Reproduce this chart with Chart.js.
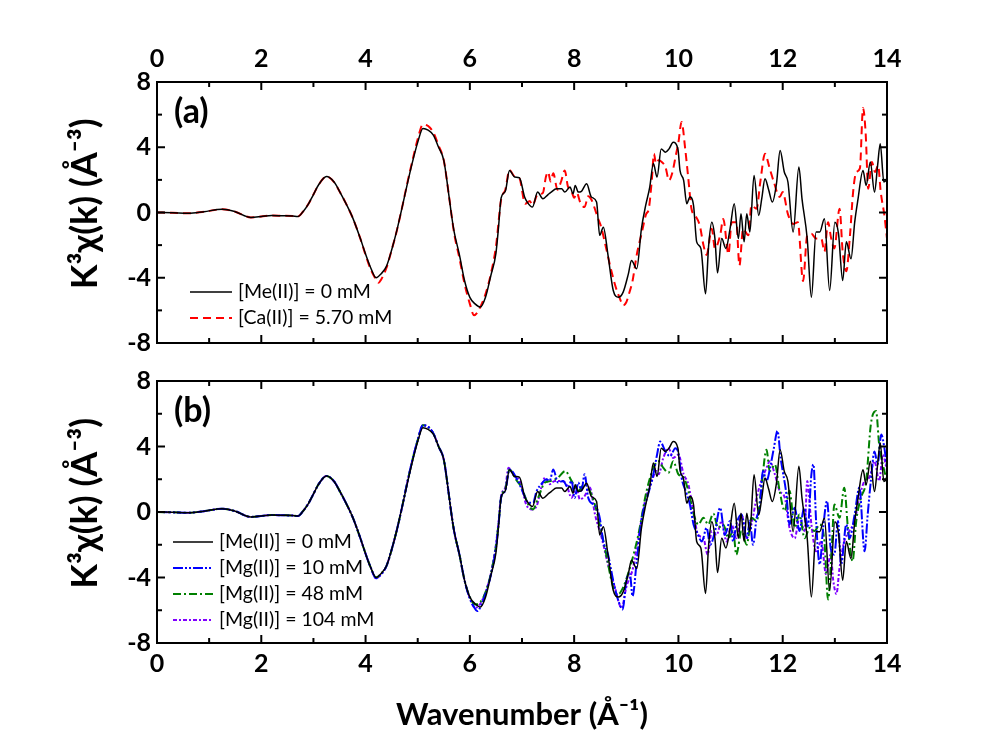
<!DOCTYPE html>
<html><head><meta charset="utf-8">
<script src="https://cdn.jsdelivr.net/npm/chart.js@4.4.0/dist/chart.umd.min.js"></script>
<style>
html,body{margin:0;padding:0;background:#fff;}
.box{position:absolute;left:0;top:0;width:992px;height:756px;}
</style></head><body>
<div class="box"><canvas id="ca" width="992" height="756"></canvas></div>
<div class="box"><canvas id="cb" width="992" height="756"></canvas></div>
<script>
// ---------- data (k in 1/Å, k^3 chi(k) in Å^-3) ----------
const kMe = [0,0.3,0.6,0.9,1.25,1.5,1.8,2.0,2.2,2.4,2.6,2.7,2.8,2.9,3.0,3.1,3.25,3.4,3.5,3.6,3.75,3.9,4.0,4.1,4.2,4.3,4.4,4.5,4.6,4.7,4.8,4.9,5.0,5.1,5.2,5.3,5.4,5.5,5.6,5.65,5.7,5.8,5.9,6.0,6.1,6.2,6.3,6.4,6.5,6.55,6.6,6.68,6.76,6.86,6.95,7.05,7.1,7.2,7.3,7.4,7.5,7.56,7.66,7.76,7.82,7.92,7.98,8.02,8.08,8.14,8.24,8.33,8.43,8.49,8.56,8.65,8.75,8.85,8.94,9.04,9.1,9.2,9.29,9.37,9.45,9.52,9.59,9.67,9.75,9.82,9.9,9.99,10.03,10.1,10.16,10.22,10.29,10.35,10.43,10.52,10.58,10.64,10.7,10.75,10.83,10.91,10.99,11.07,11.15,11.2,11.26,11.31,11.37,11.45,11.54,11.6,11.66,11.73,11.8,11.88,11.95,12.03,12.1,12.2,12.31,12.37,12.47,12.55,12.64,12.71,12.8,12.9,13.0,13.07,13.15,13.22,13.31,13.38,13.44,13.54,13.6,13.68,13.76,13.82,13.87,13.94,14.0];
const chiMe = [0,-0.02,-0.05,0.05,0.2,0.05,-0.3,-0.25,-0.18,-0.2,-0.22,-0.25,0.05,0.5,1.1,1.7,2.2,1.85,1.3,0.7,-0.3,-1.6,-2.55,-3.4,-4.0,-3.75,-3.3,-2.3,-1.1,0.3,1.74,3.1,4.3,5.15,5.05,4.75,4.0,3.2,1.0,-0.2,-1.2,-2.6,-4.2,-5.2,-5.6,-5.8,-5.2,-3.9,-2.5,-0.9,0.9,1.3,2.58,2.17,2.13,0.95,0.64,0.33,1.25,0.84,1.1,1.25,1.46,1.46,1.25,1.56,1.15,1.66,1.25,1.3,1.76,0.95,0.64,-1.4,-0.9,-2.63,-4.78,-5.19,-4.88,-3.76,-2.94,-3.45,-1.0,0.4,1.56,3.0,2.17,3.9,3.7,3.9,4.3,3.9,2.58,1.97,0.54,0.95,0.43,-1.8,-2.2,-4.98,-2.0,-0.6,-1.6,-3.7,-1.6,-2.2,-1.0,0.54,-1.6,-0.08,-1.8,-0.08,-1.2,2.27,-0.18,0.9,2.07,1.4,0.64,1.76,3.8,2.48,1.87,-1.2,2.79,0.84,-1.6,-5.19,-1.2,-1.2,-0.38,-4.78,-0.6,-1.3,-4.17,-1.8,-2.84,-0.6,0.74,2.58,1.66,3.1,1.25,2.89,4.22,1.87,2.0];

const kCa = [0,0.3,0.6,0.9,1.25,1.5,1.8,2.0,2.2,2.4,2.6,2.7,2.8,2.9,3.0,3.1,3.25,3.4,3.5,3.6,3.75,3.9,4.0,4.1,4.2,4.25,4.3,4.4,4.5,4.6,4.7,4.8,4.9,5.0,5.1,5.2,5.3,5.4,5.5,5.6,5.7,5.8,5.9,6.0,6.08,6.15,6.2,6.3,6.4,6.5,6.6,6.68,6.76,6.86,6.95,7.06,7.15,7.2,7.3,7.4,7.46,7.5,7.55,7.6,7.68,7.75,7.82,7.88,7.95,8.0,8.05,8.12,8.2,8.27,8.33,8.4,8.45,8.52,8.6,8.7,8.8,8.88,8.94,9.0,9.06,9.12,9.2,9.3,9.38,9.43,9.49,9.53,9.57,9.62,9.68,9.75,9.82,9.88,9.95,10.0,10.06,10.13,10.19,10.25,10.32,10.41,10.48,10.54,10.64,10.7,10.8,10.86,10.96,11.02,11.11,11.17,11.24,11.34,11.4,11.5,11.57,11.66,11.75,11.83,11.94,12.0,12.1,12.2,12.29,12.39,12.47,12.55,12.64,12.74,12.8,12.87,12.93,12.99,13.09,13.15,13.22,13.29,13.35,13.41,13.48,13.54,13.59,13.64,13.71,13.77,13.83,13.88,13.95,14.0];
const chiCa = [0,-0.02,-0.05,0.05,0.2,0.05,-0.3,-0.25,-0.18,-0.2,-0.22,-0.25,0.05,0.5,1.1,1.7,2.2,1.85,1.3,0.7,-0.3,-1.6,-2.6,-3.5,-4.1,-4.3,-4.1,-3.4,-2.3,-1.1,0.3,1.8,3.2,4.5,5.4,5.3,4.9,4.1,3.2,1.0,-1.3,-2.8,-4.4,-5.6,-6.3,-6.1,-5.8,-5.0,-3.8,-2.1,0.8,1.4,2.6,2.2,2.1,0.54,0.7,0.45,1.1,1.2,2.2,2.48,1.9,2.4,1.4,1.9,2.58,1.6,1.3,0.9,1.2,0.6,0.33,1.0,0.8,0.2,-0.3,-0.9,-2.0,-3.4,-4.6,-5.3,-5.7,-5.5,-4.9,-4.2,-2.6,-1.2,-0.1,0.2,2.0,3.6,3.0,3.2,3.1,2.8,1.97,2.4,3.5,4.3,5.55,3.9,2.07,0.23,-0.18,-0.8,-2.0,-2.6,-1.0,-2.2,-1.4,-0.4,-2.55,-0.6,-0.6,-3.25,-1.0,-1.4,0.43,0.23,1.87,3.6,2.7,1.87,0.95,1.25,-0.1,-0.7,-0.6,-4.2,-1.4,-1.3,-1.6,-1.6,-2.4,-0.6,-1.6,-2.2,0.23,-2.4,-3.6,-1.4,1.25,2.48,2.7,6.4,4.9,1.46,3.1,2.48,2.89,1.25,-0.18,-1.6];

const kMg10 = [0,0.3,0.6,0.9,1.25,1.5,1.8,2.0,2.2,2.4,2.6,2.7,2.8,2.9,3.0,3.1,3.25,3.4,3.5,3.6,3.75,3.9,4.0,4.1,4.2,4.3,4.4,4.5,4.6,4.7,4.8,4.9,5.0,5.1,5.2,5.3,5.4,5.5,5.6,5.65,5.7,5.8,5.9,6.0,6.08,6.14,6.22,6.3,6.4,6.5,6.55,6.6,6.68,6.76,6.92,7.05,7.12,7.21,7.28,7.37,7.47,7.53,7.6,7.69,7.79,7.88,7.95,8.01,8.08,8.14,8.2,8.27,8.37,8.43,8.49,8.56,8.65,8.75,8.85,8.93,9.0,9.07,9.12,9.2,9.29,9.42,9.52,9.59,9.65,9.75,9.84,9.94,10.0,10.06,10.16,10.22,10.29,10.35,10.45,10.54,10.61,10.7,10.8,10.89,10.99,11.05,11.11,11.21,11.31,11.37,11.43,11.5,11.56,11.62,11.69,11.77,11.83,11.9,11.96,12.0,12.07,12.13,12.23,12.32,12.41,12.48,12.55,12.59,12.64,12.71,12.77,12.85,12.92,12.99,13.06,13.12,13.22,13.28,13.38,13.47,13.57,13.63,13.69,13.76,13.82,13.89,13.95,14.0];
const chiMg10 = [0,-0.02,-0.05,0.05,0.2,0.05,-0.3,-0.25,-0.18,-0.2,-0.22,-0.25,0.05,0.5,1.1,1.7,2.2,1.85,1.3,0.7,-0.3,-1.6,-2.55,-3.4,-4.05,-3.8,-3.3,-2.3,-1.1,0.3,1.8,3.2,4.4,5.3,5.2,4.8,4.0,3.2,1.0,-0.2,-1.2,-2.6,-4.2,-5.3,-5.8,-6.05,-5.7,-5.0,-3.9,-2.2,-0.8,0.9,1.3,2.6,1.9,0.97,0.57,0.57,1.28,1.7,2.0,1.9,2.6,1.8,1.9,1.5,1.9,0.87,1.8,1.3,2.3,0.87,0.46,0.26,-0.35,-1.8,-2.6,-4.2,-5.44,-5.95,-4.2,-3.8,-5.14,-3.0,-0.55,1.1,2.3,3.5,4.3,3.7,3.4,3.9,3.6,2.1,1.1,0.46,-0.76,-1.2,-1.8,-0.96,-2.0,-1.2,0.26,-1.4,-0.55,-1.8,-0.76,-0.15,-1.6,-0.55,-2.0,-0.35,0.26,2.5,1.9,2.9,3.9,4.95,3.3,2.5,1.1,-0.76,0.26,-1.16,0.26,-0.96,2.3,2.9,-0.55,-3.2,-1.16,0.67,-2.2,-2.6,-0.55,-3.2,-0.76,-1.6,-0.15,1.5,-2.4,-0.15,1.9,3.7,2.9,4.74,3.9,2.7];

const kMg48 = [0,0.3,0.6,0.9,1.25,1.5,1.8,2.0,2.2,2.4,2.6,2.7,2.8,2.9,3.0,3.1,3.25,3.4,3.5,3.6,3.75,3.9,4.0,4.1,4.2,4.3,4.4,4.5,4.6,4.7,4.8,4.9,5.0,5.1,5.2,5.3,5.4,5.5,5.6,5.65,5.7,5.8,5.9,6.0,6.1,6.2,6.3,6.4,6.5,6.55,6.6,6.68,6.76,6.88,6.99,7.12,7.21,7.31,7.44,7.56,7.69,7.83,7.95,8.08,8.2,8.33,8.43,8.59,8.75,8.85,8.94,9.07,9.23,9.39,9.55,9.62,9.71,9.81,9.9,10.0,10.1,10.19,10.29,10.38,10.48,10.57,10.67,10.76,10.86,10.96,11.05,11.11,11.21,11.31,11.4,11.5,11.59,11.69,11.75,11.85,11.94,12.04,12.13,12.23,12.32,12.42,12.52,12.61,12.71,12.8,12.87,12.94,12.99,13.09,13.18,13.25,13.34,13.41,13.5,13.6,13.69,13.79,13.85,13.92,14.0];
const chiMg48 = [0,-0.02,-0.05,0.05,0.2,0.05,-0.3,-0.25,-0.18,-0.2,-0.22,-0.25,0.05,0.5,1.1,1.7,2.2,1.85,1.3,0.7,-0.3,-1.6,-2.55,-3.4,-4.0,-3.75,-3.3,-2.3,-1.1,0.3,1.8,3.2,4.4,5.3,5.2,4.8,4.0,3.2,1.0,-0.2,-1.2,-2.6,-4.2,-5.2,-5.65,-5.5,-4.9,-3.8,-2.1,-0.7,0.9,1.4,2.6,2.0,1.5,0.46,0.16,0.87,1.8,1.9,2.1,2.5,1.9,1.3,1.7,1.08,0.06,-2.2,-4.6,-5.0,-4.6,-3.4,-1.4,1.3,2.9,3.1,2.7,2.4,3.1,2.3,2.1,1.3,-0.1,-0.76,-0.35,-0.76,-0.1,-0.96,-0.76,-1.6,-1.16,-2.6,-1.16,-2.0,-0.35,-0.55,1.5,3.8,2.5,2.9,1.3,0.06,1.3,-0.96,-0.15,-1.6,-0.96,-1.16,-0.76,-1.8,-5.35,-2.2,0.46,-0.35,1.48,-0.96,-3.0,-0.55,0.87,1.9,5.35,6.17,4.1,2.9,1.9];

const kMg104 = [0,0.3,0.6,0.9,1.25,1.5,1.8,2.0,2.2,2.4,2.6,2.7,2.8,2.9,3.0,3.1,3.25,3.4,3.5,3.6,3.75,3.9,4.0,4.1,4.2,4.3,4.4,4.5,4.6,4.7,4.8,4.9,5.0,5.1,5.2,5.3,5.4,5.5,5.6,5.65,5.7,5.8,5.9,6.0,6.1,6.2,6.3,6.4,6.5,6.55,6.6,6.68,6.74,6.85,6.96,7.08,7.18,7.28,7.37,7.44,7.53,7.63,7.76,7.85,7.95,8.04,8.11,8.2,8.3,8.4,8.53,8.65,8.78,8.91,9.0,9.13,9.23,9.36,9.49,9.58,9.62,9.71,9.81,9.9,10.0,10.1,10.19,10.29,10.38,10.48,10.56,10.64,10.73,10.83,10.92,11.02,11.11,11.21,11.31,11.4,11.5,11.59,11.69,11.75,11.85,11.94,12.04,12.13,12.23,12.32,12.42,12.47,12.55,12.64,12.74,12.83,12.92,12.97,13.03,13.09,13.18,13.28,13.38,13.47,13.57,13.66,13.76,13.85,13.92,14.0];
const chiMg104 = [0,-0.02,-0.05,0.05,0.2,0.05,-0.3,-0.25,-0.18,-0.2,-0.22,-0.25,0.05,0.5,1.1,1.7,2.2,1.85,1.3,0.7,-0.3,-1.6,-2.55,-3.4,-4.05,-3.8,-3.3,-2.3,-1.1,0.3,1.8,3.2,4.4,5.3,5.2,4.8,4.0,3.2,1.0,-0.2,-1.2,-2.6,-4.2,-5.25,-5.85,-5.6,-4.9,-3.8,-2.0,-0.6,1.0,1.5,2.7,2.2,1.9,0.46,0.16,0.36,1.5,2.1,1.7,1.9,1.9,1.7,0.87,1.5,0.77,0.97,1.5,-0.15,-1.6,-3.2,-4.6,-5.85,-4.6,-3.4,-1.6,0.67,1.9,2.5,2.3,3.3,3.9,3.3,3.5,2.3,1.7,-0.1,-1.4,-1.6,-2.6,-1.16,-1.4,-0.55,-1.8,-0.76,-1.6,-0.15,-1.6,-0.76,0.87,1.9,2.7,3.1,2.3,1.3,0.87,-0.96,-1.6,-0.35,-1.16,1.9,-0.76,-2.4,-1.8,-3.8,-2.6,-4.2,-5.0,-3.4,-1.8,-1.16,-0.55,0.87,1.9,2.1,3.1,1.9,3.5,2.5];

const labelsA = ['[Me(II)] = 0 mM', '[Ca(II)] = 5.70 mM'];
const labelsB = ['[Me(II)] = 0 mM', '[Mg(II)] = 10 mM', '[Mg(II)] = 48 mM', '[Mg(II)] = 104 mM'];
const xTitle = 'Wavenumber (Å⁻¹)';
const yTitle = '  K³χ(k) (Å⁻³)';

// ---------- helpers ----------
function pts(k, v) {
  const n = Math.min(k.length, v.length);
  const out = [];
  for (let i = 0; i < n; i++) out.push({x: k[i], y: v[i]});
  return out;
}
const TICK_FONT = {family: "Lato, 'Liberation Sans', sans-serif", weight: 'bold', size: 25, lineHeight: 1};
const YTITLE_FONT = {family: "Lato, 'DejaVu Sans', sans-serif", weight: 'bold', size: 36};
const XTITLE_FONT = {family: "Lato, 'DejaVu Sans', sans-serif", weight: 'bold', size: 31};

function ds(label, k, v, color, dash, width) {
  return {label, data: pts(k, v), borderColor: color, backgroundColor: color,
    borderDash: dash, borderWidth: width, pointRadius: 0, fill: false,
    cubicInterpolationMode: 'monotone'};
}

const framePlugin = {
  id: 'frameTicks',
  afterDatasetsDraw(chart, args, o) {
    const {ctx, chartArea: a} = chart;
    const xs = chart.scales.x, ys = chart.scales.y;
    ctx.save();
    ctx.strokeStyle = '#000';
    ctx.lineWidth = 2;
    ctx.setLineDash([]);
    ctx.strokeRect(a.left, a.top, a.right - a.left, a.bottom - a.top);
    const seg = (x1, y1, x2, y2) => { ctx.beginPath(); ctx.moveTo(x1, y1); ctx.lineTo(x2, y2); ctx.stroke(); };
    const xt = xs.ticks.map(t => t.value);
    for (let i = 0; i < xt.length; i++) {
      const p = xs.getPixelForValue(xt[i]);
      seg(p, a.top, p, a.top + 8); seg(p, a.bottom, p, a.bottom - 8);
      if (i < xt.length - 1) {
        const m = xs.getPixelForValue((xt[i] + xt[i + 1]) / 2);
        seg(m, a.top, m, a.top + 5); seg(m, a.bottom, m, a.bottom - 5);
      }
    }
    const yt = ys.ticks.map(t => t.value);
    for (let i = 0; i < yt.length; i++) {
      const p = ys.getPixelForValue(yt[i]);
      seg(a.left, p, a.left + 8, p); seg(a.right, p, a.right - 8, p);
      if (i < yt.length - 1) {
        const m = ys.getPixelForValue((yt[i] + yt[i + 1]) / 2);
        seg(a.left, m, a.left + 5, m); seg(a.right, m, a.right - 5, m);
      }
    }
    // panel label
    ctx.fillStyle = '#000';
    ctx.font = "bold 34px Lato, 'DejaVu Sans', sans-serif";
    ctx.textBaseline = 'middle';
    ctx.textAlign = 'left';
    ctx.fillText(o.panel, a.left + 17, a.top + 30);
    // legend
    ctx.font = "19.5px Lato, 'DejaVu Sans', sans-serif";
    chart.data.datasets.forEach((d, i) => {
      const y = o.legY + i * o.legDy;
      ctx.strokeStyle = d.borderColor;
      ctx.lineWidth = d.borderWidth;
      ctx.setLineDash(d.borderDash || []);
      seg(o.legX, y, o.legX + o.legLen, y);
      ctx.setLineDash([]);
      ctx.fillStyle = '#000';
      ctx.fillText(d.label, o.legX + o.legLen + 6, y);
    });
    ctx.restore();
  }
};

function yScale() {
  return {
    type: 'linear', min: -8, max: 8, position: 'left',
    ticks: {stepSize: 4, font: TICK_FONT, color: '#000', padding: 6},
    grid: {display: false, drawTicks: false},
    border: {display: false},
    title: {display: true, text: yTitle, font: YTITLE_FONT, color: '#000', padding: 0},
    afterFit(s) { s.width = 93; }
  };
}

const common = {
  responsive: false, animation: false, devicePixelRatio: 1,
  plugins: {legend: {display: false}, tooltip: {enabled: false}},
  elements: {line: {tension: 0}}
};

new Chart(document.getElementById('ca'), {
  type: 'line',
  data: {datasets: [
    ds(labelsA[0], kMe, chiMe, '#000000', [], 1.5),
    ds(labelsA[1], kCa, chiCa, '#ff0000', [8, 5], 2)
  ]},
  options: Object.assign({}, common, {
    layout: {padding: {left: 64, top: 0, right: 105, bottom: 413}},
    scales: {
      x: {type: 'linear', position: 'top', min: 0, max: 14,
        ticks: {stepSize: 2, font: TICK_FONT, color: '#000', padding: 11, maxRotation: 0},
        grid: {display: false, drawTicks: false}, border: {display: false},
        afterFit(s) { s.height = 82; }},
      y: yScale()
    },
    plugins: Object.assign({}, common.plugins, {
      frameTicks: {panel: '(a)', legX: 190, legY: 292, legDy: 26, legLen: 42}
    })
  }),
  plugins: [framePlugin]
});

new Chart(document.getElementById('cb'), {
  type: 'line',
  data: {datasets: [
    ds(labelsB[0], kMe, chiMe, '#000000', [], 1.5),
    ds(labelsB[1], kMg10, chiMg10, '#0000ff', [10, 2, 2, 2, 2, 2], 2),
    ds(labelsB[2], kMg48, chiMg48, '#008000', [8, 3, 2, 3], 2),
    ds(labelsB[3], kMg104, chiMg104, '#8000ff', [4, 2, 2, 2], 2)
  ]},
  options: Object.assign({}, common, {
    layout: {padding: {left: 64, top: 381, right: 105, bottom: 22}},
    scales: {
      x: {type: 'linear', position: 'bottom', min: 0, max: 14,
        ticks: {stepSize: 2, font: TICK_FONT, color: '#000', padding: 8, maxRotation: 0},
        grid: {display: false, drawTicks: false}, border: {display: false},
        title: {display: true, text: xTitle, font: XTITLE_FONT, color: '#000', padding: 0},
        afterFit(s) { s.height = 91; }},
      y: yScale()
    },
    plugins: Object.assign({}, common.plugins, {
      frameTicks: {panel: '(b)', legX: 173, legY: 542, legDy: 26, legLen: 40}
    })
  }),
  plugins: [framePlugin]
});
</script>
</body></html>
